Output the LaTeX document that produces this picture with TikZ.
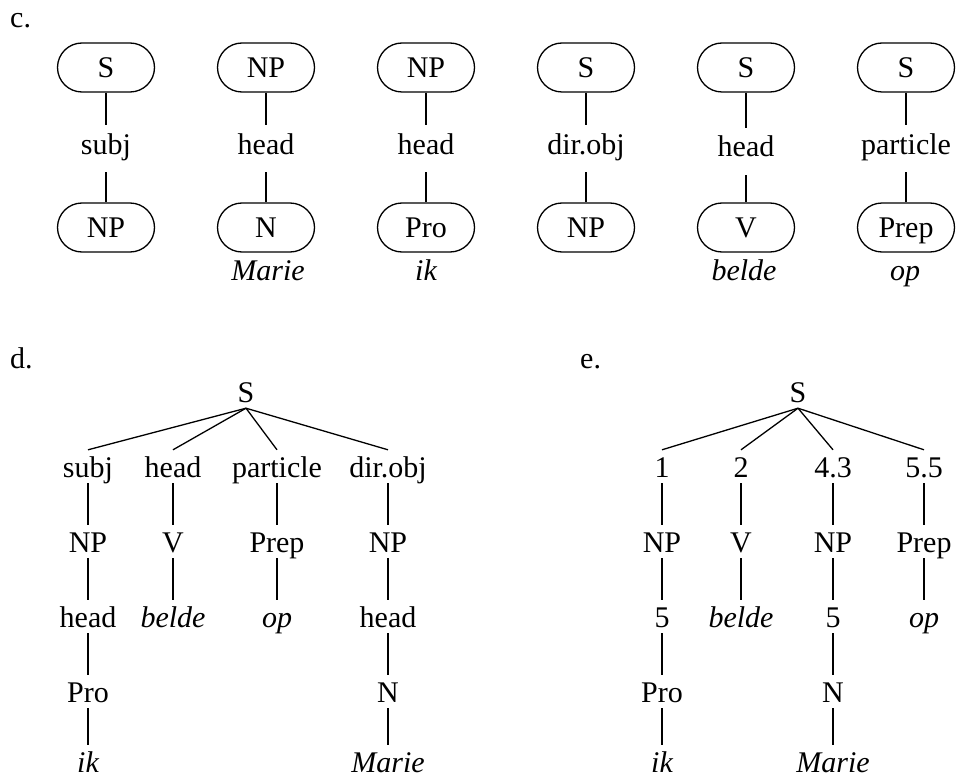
\documentclass[tikz,border=0pt]{standalone}
\usepackage{fontspec}
\setmainfont{Liberation Serif}
\usetikzlibrary{shapes.misc}
\begin{document}
\begin{tikzpicture}[x=1pt,y=-1pt,
  every node/.style={font=\fontsize{30}{36}\selectfont},
  oval/.style={draw, line width=1.3pt, rounded rectangle, minimum width=97pt, minimum height=49pt, inner sep=0pt, text height=20pt, text depth=0pt},
  rel/.style={anchor=base, inner sep=0pt, text height=29pt, text depth=18pt},
  word/.style={anchor=base, inner sep=0pt, font=\fontsize{30}{36}\selectfont\itshape},
  tn/.style={anchor=base, inner sep=0pt, text height=27pt, text depth=6pt},
  tw/.style={tn, font=\fontsize{30}{36}\selectfont\itshape},
  twl/.style={tw, text depth=0pt},
  lbl/.style={anchor=base west, inner sep=0pt},
  ln/.style={line width=1.3pt}]
\useasboundingbox (0,0) rectangle (957,778);
% ---------- c ----------
\node[lbl] (lc) at (10,28) {c.};
\foreach \i/\x/\t/\r/\b/\yb in {1/106/S/subj/NP/154, 2/266/NP/head/N/154, 3/426/NP/head/Pro/154, 4/586/S/dir.obj/NP/154, 5/746/S/head/V/157, 6/906/S/particle/Prep/154}{
  \node[oval] (ct\i) at (\x,67.5) {\t};
  \node[rel] (cr\i) at (\x,\yb) {\r};
  \node[oval] (cb\i) at (\x,227.5) {\b};
  \draw[ln] (ct\i.south) -- (cr\i.north);
  \draw[ln] (cr\i.south) -- (cb\i.north);
}
\node[word] (cw2) at (268,280) {Marie};
\node[word] (cw3) at (426,280) {ik};
\node[word] (cw5) at (744,280) {belde};
\node[word] (cw6) at (905,280) {op};
% ---------- d ----------
\node[lbl] (ld) at (10,368) {d.};
\node[tn] (dS) at (246,402) {S};
\node[tn] (d11) at (88,477) {subj};
\node[tn] (d12) at (88,552) {NP};
\node[tn] (d13) at (88,627) {head};
\node[tn] (d14) at (88,702) {Pro};
\node[twl] (d15) at (88,772) {ik};
\node[tn] (d21) at (173,477) {head};
\node[tn] (d22) at (173,552) {V};
\node[tw] (d23) at (173,627) {belde};
\node[tn] (d31) at (277,477) {particle};
\node[tn] (d32) at (277,552) {Prep};
\node[tw] (d33) at (277,627) {op};
\node[tn] (d41) at (388,477) {dir.obj};
\node[tn] (d42) at (388,552) {NP};
\node[tn] (d43) at (388,627) {head};
\node[tn] (d44) at (388,702) {N};
\node[twl] (d45) at (388,772) {Marie};
\foreach \c in {d11,d21,d31,d41} \draw[ln] (dS.south) -- (\c.north);
\foreach \a/\b in {d11/d12,d12/d13,d13/d14,d14/d15,d21/d22,d22/d23,d31/d32,d32/d33,d41/d42,d42/d43,d43/d44,d44/d45}
  \draw[ln] (\a.south) -- (\b.north);
% ---------- e ----------
\node[lbl] (le) at (580,368) {e.};
\node[tn] (eS) at (798,402) {S};
\node[tn] (e11) at (662,477) {1};
\node[tn] (e12) at (662,552) {NP};
\node[tn] (e13) at (662,627) {5};
\node[tn] (e14) at (662,702) {Pro};
\node[twl] (e15) at (662,772) {ik};
\node[tn] (e21) at (741,477) {2};
\node[tn] (e22) at (741,552) {V};
\node[tw] (e23) at (741,627) {belde};
\node[tn] (e31) at (833,477) {4.3};
\node[tn] (e32) at (833,552) {NP};
\node[tn] (e33) at (833,627) {5};
\node[tn] (e34) at (833,702) {N};
\node[twl] (e35) at (833,772) {Marie};
\node[tn] (e41) at (924,477) {5.5};
\node[tn] (e42) at (924,552) {Prep};
\node[tw] (e43) at (924,627) {op};
\foreach \c in {e11,e21,e31,e41} \draw[ln] (eS.south) -- (\c.north);
\foreach \a/\b in {e11/e12,e12/e13,e13/e14,e14/e15,e21/e22,e22/e23,e31/e32,e32/e33,e33/e34,e34/e35,e41/e42,e42/e43}
  \draw[ln] (\a.south) -- (\b.north);
\end{tikzpicture}
\end{document}
